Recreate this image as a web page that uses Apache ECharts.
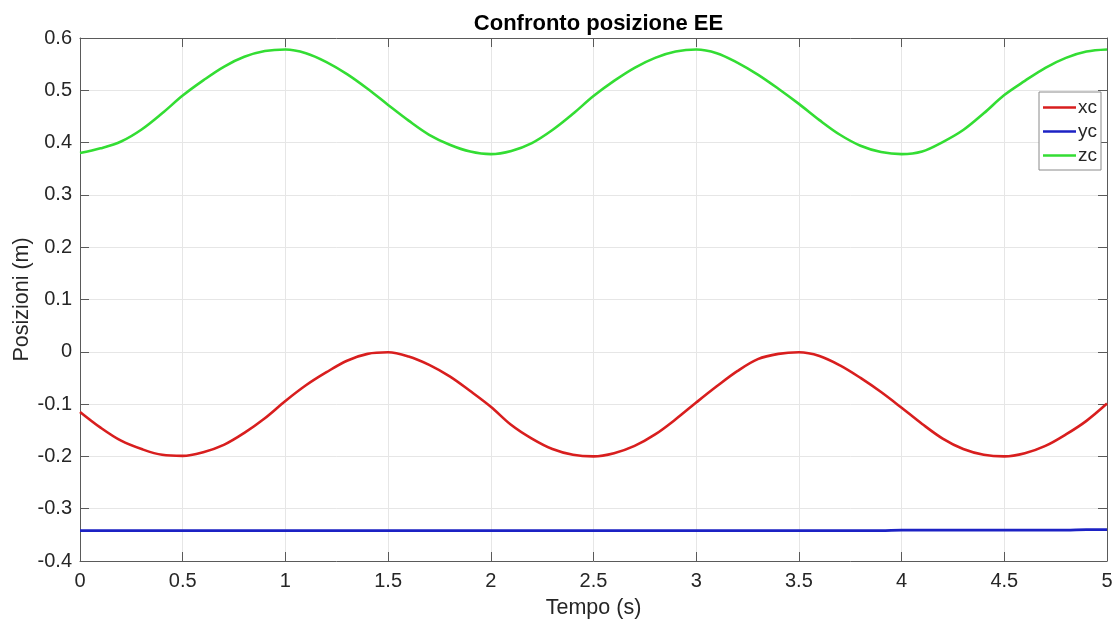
<!DOCTYPE html>
<html>
<head>
<meta charset="utf-8">
<title>Confronto posizione EE</title>
<script src="https://cdn.jsdelivr.net/npm/echarts@6/dist/echarts.min.js"></script>
<style>
  html, body { margin: 0; padding: 0; background: #ffffff; }
  #chart { width: 1116px; height: 625px; }
</style>
</head>
<body>
<div id="chart"></div>
<script>
// Time samples (s)
const tempo = [
  0.0, 0.1, 0.2, 0.3, 0.4, 0.5, 0.6, 0.7, 0.8, 0.9,
  1.0, 1.1, 1.2, 1.3, 1.4, 1.5, 1.6, 1.7, 1.8, 1.9,
  2.0, 2.1, 2.2, 2.3, 2.4, 2.5, 2.6, 2.7, 2.8, 2.9,
  3.0, 3.1, 3.2, 3.3, 3.4, 3.5, 3.6, 3.7, 3.8, 3.9,
  4.0, 4.1, 4.2, 4.3, 4.4, 4.5, 4.6, 4.7, 4.8, 4.9,
  5.0
];

// End-effector position components (m)
const xc = [
  -0.115, -0.145, -0.170, -0.186, -0.197, -0.199, -0.192, -0.178, -0.155, -0.127,
  -0.094, -0.064, -0.039, -0.017, -0.004, -0.001, -0.009, -0.025, -0.047, -0.075,
  -0.105, -0.140, -0.166, -0.186, -0.197, -0.200, -0.194, -0.180, -0.158, -0.129,
  -0.097, -0.066, -0.037, -0.014, -0.004, -0.001, -0.008, -0.026, -0.050, -0.077,
  -0.107, -0.138, -0.166, -0.186, -0.197, -0.200, -0.194, -0.180, -0.158, -0.132,
  -0.099
];
const yc = [
  -0.342, -0.342, -0.342, -0.342, -0.342, -0.342, -0.342, -0.342, -0.342, -0.342,
  -0.342, -0.342, -0.342, -0.342, -0.342, -0.342, -0.342, -0.342, -0.342, -0.342,
  -0.342, -0.342, -0.342, -0.342, -0.342, -0.342, -0.342, -0.342, -0.342, -0.342,
  -0.342, -0.342, -0.342, -0.342, -0.342, -0.342, -0.342, -0.342, -0.342, -0.342,
  -0.341, -0.341, -0.341, -0.341, -0.341, -0.341, -0.341, -0.341, -0.341, -0.340,
  -0.340
];
const zc = [
  0.380, 0.389, 0.402, 0.425, 0.456, 0.490, 0.519, 0.545, 0.564, 0.575,
  0.578, 0.571, 0.554, 0.531, 0.503, 0.472, 0.442, 0.415, 0.396, 0.383,
  0.378, 0.384, 0.399, 0.424, 0.455, 0.489, 0.518, 0.543, 0.562, 0.574,
  0.578, 0.571, 0.553, 0.530, 0.503, 0.474, 0.443, 0.415, 0.394, 0.382,
  0.378, 0.383, 0.401, 0.424, 0.456, 0.491, 0.518, 0.543, 0.562, 0.574,
  0.578
];

const seriesNames = ['xc', 'yc', 'zc'];
const seriesColors = ['#d81e1e', '#1c22c4', '#33dd33'];
const seriesValues = [xc, yc, zc];

const FONT = '"Liberation Sans", Arial, Helvetica, sans-serif';
const TEXT = '#262626';
const AXIS = '#5a5a5a';

function pairs(values) {
  return tempo.map((t, i) => [t, values[i]]);
}

const chart = echarts.init(document.getElementById('chart'), null, { renderer: 'canvas' });

// Top and right axes only close the plot box and carry inward ticks
const frameAxis = {
  axisLine: { show: true, onZero: false, lineStyle: { color: AXIS, width: 1 } },
  axisTick: { show: true, inside: true, length: 9, lineStyle: { color: AXIS } },
  axisLabel: { show: false },
  splitLine: { show: false }
};

chart.setOption({
  animation: false,
  backgroundColor: '#ffffff',
  textStyle: { fontFamily: FONT },
  title: {
    text: 'Confronto posizione EE',
    left: 593.5,
    textAlign: 'center',
    top: 8,
    textStyle: { fontFamily: FONT, fontSize: 22, fontWeight: 'bold', color: '#000000' }
  },
  legend: {
    data: seriesNames,
    orient: 'vertical',
    right: 15,
    top: 92,
    icon: 'rect',
    itemWidth: 33,
    itemHeight: 2.5,
    itemGap: 5,
    padding: [6, 4, 5, 4],
    backgroundColor: '#ffffff',
    borderColor: '#8a8a8a',
    borderWidth: 1,
    borderRadius: 0,
    textStyle: { fontFamily: FONT, fontSize: 19, color: TEXT, padding: [0, 0, 0, -3] }
  },
  grid: {
    left: 80, right: 9, top: 38, bottom: 64,
    containLabel: false,
    outerBoundsMode: 'none'
  },
  xAxis: [
    {
      type: 'value',
      min: 0,
      max: 5,
      interval: 0.5,
      name: 'Tempo (s)',
      nameLocation: 'middle',
      nameGap: 36,
      nameMoveOverlap: false,
      nameTextStyle: { fontFamily: FONT, fontSize: 21.5, color: TEXT },
      axisLine: { show: true, onZero: false, lineStyle: { color: AXIS, width: 1 } },
      axisTick: { show: true, inside: true, length: 9, lineStyle: { color: AXIS } },
      axisLabel: { fontFamily: FONT, fontSize: 20, color: TEXT, margin: 10 },
      splitLine: { show: true, lineStyle: { color: '#e6e6e6', width: 1 } }
    },
    Object.assign({ type: 'value', min: 0, max: 5, interval: 0.5, position: 'top' }, frameAxis)
  ],
  yAxis: [
    {
      type: 'value',
      min: -0.4,
      max: 0.6,
      interval: 0.1,
      name: 'Posizioni (m)',
      nameLocation: 'middle',
      nameGap: 47,
      nameMoveOverlap: false,
      nameTextStyle: { fontFamily: FONT, fontSize: 21.5, color: TEXT },
      axisLine: { show: true, onZero: false, lineStyle: { color: AXIS, width: 1 } },
      axisTick: { show: true, inside: true, length: 9, lineStyle: { color: AXIS } },
      axisLabel: {
        fontFamily: FONT, fontSize: 20, color: TEXT, margin: 8,
        formatter: v => String(Math.round(v * 10) / 10)
      },
      splitLine: { show: true, lineStyle: { color: '#e6e6e6', width: 1 } }
    },
    Object.assign({ type: 'value', min: -0.4, max: 0.6, interval: 0.1, position: 'right' }, frameAxis)
  ],
  series: seriesNames.map((name, i) => ({
    name: name,
    type: 'line',
    xAxisIndex: 0,
    yAxisIndex: 0,
    data: pairs(seriesValues[i]),
    smooth: 0.35,
    symbol: 'none',
    showSymbol: false,
    color: seriesColors[i],
    lineStyle: { color: seriesColors[i], width: 2.6 },
    z: 3
  }))
});
</script>
</body>
</html>
